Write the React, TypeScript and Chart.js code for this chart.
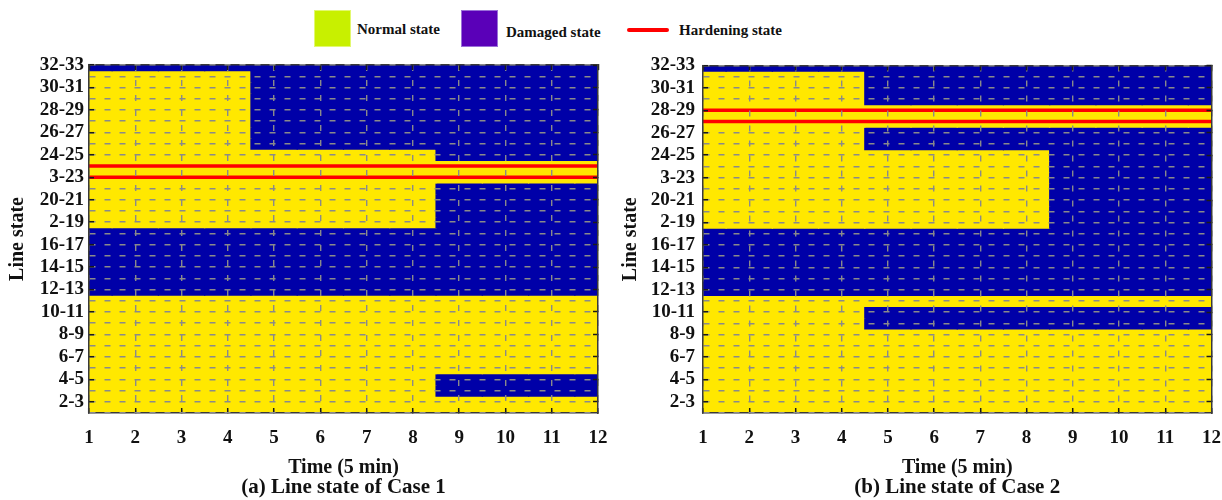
import React, { useEffect, useRef } from 'react';
import { Chart, registerables } from 'chart.js';

Chart.register(...registerables);

// ---------- data ----------
const timeSteps = [1, 2, 3, 4, 5, 6, 7, 8, 9, 10, 11, 12];

// line rows, listed from the top of the chart (32) to the bottom (1)
const rowIds = [32, 31, 30, 29, 28, 27, 26, 25, 24, 23, 22, 21, 20, 19, 18, 17, 16, 15, 14, 13, 12, 11, 10, 9, 8, 7, 6, 5, 4, 3, 2, 1];

const yTickValues = [2, 4, 6, 8, 10, 12, 14, 16, 18, 20, 22, 24, 26, 28, 30, 32];
const yTickLabels = ['2-3', '4-5', '6-7', '8-9', '10-11', '12-13', '14-15', '16-17', '2-19', '20-21', '3-23', '24-25', '26-27', '28-29', '30-31', '32-33'];

// N = normal, D = damaged, H = hardened (one string per row, same order as rowIds, one char per time step)
const case1States = [
  'DDDDDDDDDDDD', // 32
  'NNNNDDDDDDDD', // 31
  'NNNNDDDDDDDD', // 30
  'NNNNDDDDDDDD', // 29
  'NNNNDDDDDDDD', // 28
  'NNNNDDDDDDDD', // 27
  'NNNNDDDDDDDD', // 26
  'NNNNDDDDDDDD', // 25
  'NNNNNNNNDDDD', // 24
  'HHHHHHHHHHHH', // 23
  'HHHHHHHHHHHH', // 22
  'NNNNNNNNDDDD', // 21
  'NNNNNNNNDDDD', // 20
  'NNNNNNNNDDDD', // 19
  'NNNNNNNNDDDD', // 18
  'DDDDDDDDDDDD', // 17
  'DDDDDDDDDDDD', // 16
  'DDDDDDDDDDDD', // 15
  'DDDDDDDDDDDD', // 14
  'DDDDDDDDDDDD', // 13
  'DDDDDDDDDDDD', // 12
  'NNNNNNNNNNNN', // 11
  'NNNNNNNNNNNN', // 10
  'NNNNNNNNNNNN', // 9
  'NNNNNNNNNNNN', // 8
  'NNNNNNNNNNNN', // 7
  'NNNNNNNNNNNN', // 6
  'NNNNNNNNNNNN', // 5
  'NNNNNNNNDDDD', // 4
  'NNNNNNNNDDDD', // 3
  'NNNNNNNNNNNN', // 2
  'NNNNNNNNNNNN', // 1
];

const case2States = [
  'DDDDDDDDDDDD', // 32
  'NNNNDDDDDDDD', // 31
  'NNNNDDDDDDDD', // 30
  'NNNNDDDDDDDD', // 29
  'HHHHHHHHHHHH', // 28
  'HHHHHHHHHHHH', // 27
  'NNNNDDDDDDDD', // 26
  'NNNNDDDDDDDD', // 25
  'NNNNNNNNDDDD', // 24
  'NNNNNNNNDDDD', // 23
  'NNNNNNNNDDDD', // 22
  'NNNNNNNNDDDD', // 21
  'NNNNNNNNDDDD', // 20
  'NNNNNNNNDDDD', // 19
  'NNNNNNNNDDDD', // 18
  'DDDDDDDDDDDD', // 17
  'DDDDDDDDDDDD', // 16
  'DDDDDDDDDDDD', // 15
  'DDDDDDDDDDDD', // 14
  'DDDDDDDDDDDD', // 13
  'DDDDDDDDDDDD', // 12
  'NNNNNNNNNNNN', // 11
  'NNNNDDDDDDDD', // 10
  'NNNNDDDDDDDD', // 9
  'NNNNNNNNNNNN', // 8
  'NNNNNNNNNNNN', // 7
  'NNNNNNNNNNNN', // 6
  'NNNNNNNNNNNN', // 5
  'NNNNNNNNNNNN', // 4
  'NNNNNNNNNNNN', // 3
  'NNNNNNNNNNNN', // 2
  'NNNNNNNNNNNN', // 1
];

const case1Hardened = [23, 22];
const case2Hardened = [28, 27];

// ---------- styles ----------
const FONT = "'Liberation Serif', 'Times New Roman', serif";
const CELL_COLORS: Record<string, string> = { N: '#ffe800', D: '#0000a8', H: '#ffe800' };
const GRID_COLOR = '#8a8a8a';
const AXIS_COLOR = '#3a3a3a';
const TICK_COLOR = '#1a1a1a';
const TEXT_COLOR = '#111111';
const CAPTION_LH = 25;

interface PanelProps {
  states: string[];
  hardened: number[];
  caption: string;
  left: number;
  yAxisWidth: number;
  padRight: number;
  padTop: number;
  yTitlePad: number;
  yTickPad: number;
}

function StatePanel(props: PanelProps) {
  const ref = useRef<HTMLCanvasElement>(null);
  useEffect(() => {
    const { states, hardened, caption, yAxisWidth, padRight, padTop, yTitlePad, yTickPad } = props;
    const datasets: any[] = [];
    states.forEach((rowStr, idx) => {
      const row = rowIds[idx];
      datasets.push({
        type: 'bar',
        order: 2,
        data: timeSteps.map((t) => ({ x: t, y: [row - 0.5, row + 0.5] })),
        backgroundColor: timeSteps.map((_, i) => CELL_COLORS[rowStr[i]]),
        borderWidth: 0,
        grouped: false,
        barPercentage: 1,
        categoryPercentage: 1,
        inflateAmount: 0.6,
        xAxisID: 'x',
        yAxisID: 'y',
      });
    });
    hardened.forEach((row) => {
      datasets.push({
        type: 'line',
        order: 0,
        data: [
          { x: timeSteps[0], y: row },
          { x: timeSteps[timeSteps.length - 1], y: row },
        ],
        borderColor: '#ff0000',
        borderWidth: 3.5,
        pointRadius: 0,
        fill: false,
        xAxisID: 'x',
        yAxisID: 'y',
      });
    });

    const tickFont = { family: FONT, size: 19, weight: 'bold' as const };
    const titleFont = { family: FONT, size: 20, weight: 'bold' as const, lineHeight: 1 };
    const captionFont = { family: FONT, size: 21, weight: 'bold' as const, lineHeight: CAPTION_LH / 21 };
    const evenTick = (ctx: any) => (ctx.tick && ctx.tick.value % 2 === 0 ? TICK_COLOR : 'rgba(0,0,0,0)');

    const chart = new Chart(ref.current!, {
      type: 'bar',
      data: { datasets },
      options: {
        responsive: false,
        animation: false,
        devicePixelRatio: 1,
        layout: { padding: { top: padTop, right: padRight, left: 0, bottom: 0 } },
        plugins: {
          legend: { display: false },
          tooltip: { enabled: false },
          title: {
            display: true,
            position: 'bottom',
            fullSize: false,
            text: caption,
            color: TEXT_COLOR,
            font: captionFont,
            padding: 0,
          },
        },
        scales: {
          x: {
            type: 'linear',
            axis: 'x',
            position: 'bottom',
            min: 1,
            max: 12,
            offset: false,
            afterFit: (s: any) => {
              s.height = 500 - 413 - CAPTION_LH;
              s.paddingLeft = 0;
              s.paddingRight = 0;
            },
            ticks: {
              stepSize: 1,
              autoSkip: false,
              maxRotation: 0,
              padding: 19,
              color: TEXT_COLOR,
              font: tickFont,
              callback: (v: any) => String(v),
            },
            grid: {
              color: GRID_COLOR,
              lineWidth: 1.4,
              z: 1,
              offset: false,
              drawTicks: true,
              tickLength: -5,
              tickColor: TICK_COLOR,
              tickWidth: 1.5,
            },
            border: { display: true, color: AXIS_COLOR, width: 1.5, dash: [6, 9], z: 1 },
            title: { display: true, text: 'Time (5 min)', color: TEXT_COLOR, font: titleFont, padding: { top: 0, bottom: -3 } },
          },
          x2: {
            type: 'linear',
            axis: 'x',
            position: 'top',
            min: 1,
            max: 12,
            offset: false,
            afterFit: (s: any) => {
              s.height = 0;
              s.paddingLeft = 0;
              s.paddingRight = 0;
            },
            ticks: { display: false, stepSize: 1, autoSkip: false },
            grid: {
              drawOnChartArea: false,
              offset: false,
              drawTicks: true,
              tickLength: -5,
              tickColor: TICK_COLOR,
              tickWidth: 1.5,
              z: 1,
            },
            border: { display: true, color: AXIS_COLOR, width: 1.5, z: 1 },
          },
          y: {
            type: 'linear',
            axis: 'y',
            position: 'left',
            min: 1,
            max: 32,
            offset: false,
            beginAtZero: false,
            afterFit: (s: any) => {
              s.width = yAxisWidth;
              s.paddingTop = 0;
              s.paddingBottom = 0;
            },
            ticks: {
              stepSize: 1,
              autoSkip: false,
              padding: yTickPad,
              color: TEXT_COLOR,
              font: tickFont,
              callback: (v: any) => {
                const i = yTickValues.indexOf(Number(v));
                return i >= 0 ? yTickLabels[i] : '';
              },
            },
            grid: {
              color: (ctx: any) => (ctx.tick && hardened.includes(ctx.tick.value) ? 'rgba(0,0,0,0)' : GRID_COLOR),
              lineWidth: 1.4,
              z: 1,
              offset: false,
              drawTicks: true,
              tickLength: -5,
              tickColor: evenTick,
              tickWidth: 1.5,
            },
            border: { display: true, color: AXIS_COLOR, width: 1.5, dash: [6, 9], z: 1 },
            title: { display: true, text: 'Line state', color: TEXT_COLOR, font: titleFont, padding: { top: yTitlePad, bottom: 0 } },
          },
          y2: {
            type: 'linear',
            axis: 'y',
            position: 'right',
            min: 1,
            max: 32,
            offset: false,
            beginAtZero: false,
            afterFit: (s: any) => {
              s.width = 0;
              s.paddingTop = 0;
              s.paddingBottom = 0;
            },
            ticks: { display: false, stepSize: 1, autoSkip: false },
            grid: {
              drawOnChartArea: false,
              offset: false,
              drawTicks: true,
              tickLength: -5,
              tickColor: evenTick,
              tickWidth: 1.5,
              z: 1,
            },
            border: { display: true, color: AXIS_COLOR, width: 1.5, z: 1 },
          },
        },
      } as any,
    });
    return () => chart.destroy();
  }, []);

  return (
    <div style={{ position: 'absolute', left: props.left, top: 0, width: 611, height: 500 }}>
      <canvas ref={ref} width={611} height={500} style={{ display: 'block', width: 611, height: 500 }} />
    </div>
  );
}

const legendText: React.CSSProperties = {
  position: 'absolute',
  fontFamily: FONT,
  fontWeight: 'bold',
  fontSize: 15,
  color: TEXT_COLOR,
  lineHeight: '20px',
  whiteSpace: 'nowrap',
};

export default function App() {
  return (
    <div style={{ position: 'fixed', left: 0, top: 0, width: 1222, height: 500, background: '#ffffff', overflow: 'hidden' }}>
      {/* legend */}
      <div style={{ position: 'absolute', left: 314, top: 10, width: 37, height: 37, background: '#c8f000', boxShadow: 'inset 0 0 0 1px #e2f870' }} />
      <div style={{ ...legendText, left: 357, top: 19 }}>Normal state</div>
      <div style={{ position: 'absolute', left: 461, top: 10, width: 37, height: 37, background: '#5a00b8', boxShadow: 'inset 0 0 0 1px #9a70d8' }} />
      <div style={{ ...legendText, left: 506, top: 22 }}>Damaged state</div>
      <div style={{ position: 'absolute', left: 627, top: 28, width: 42, height: 4, background: '#ff0000', borderRadius: 2 }} />
      <div style={{ ...legendText, left: 679, top: 20 }}>Hardening state</div>

      <StatePanel
        states={case1States}
        hardened={case1Hardened}
        caption="(a) Line state of Case 1"
        left={0}
        yAxisWidth={89}
        padRight={13}
        padTop={65}
        yTitlePad={8}
        yTickPad={10}
      />
      <StatePanel
        states={case2States}
        hardened={case2Hardened}
        caption="(b) Line state of Case 2"
        left={611}
        yAxisWidth={92}
        padRight={10.5}
        padTop={65.5}
        yTitlePad={10}
        yTickPad={13}
      />
    </div>
  );
}
